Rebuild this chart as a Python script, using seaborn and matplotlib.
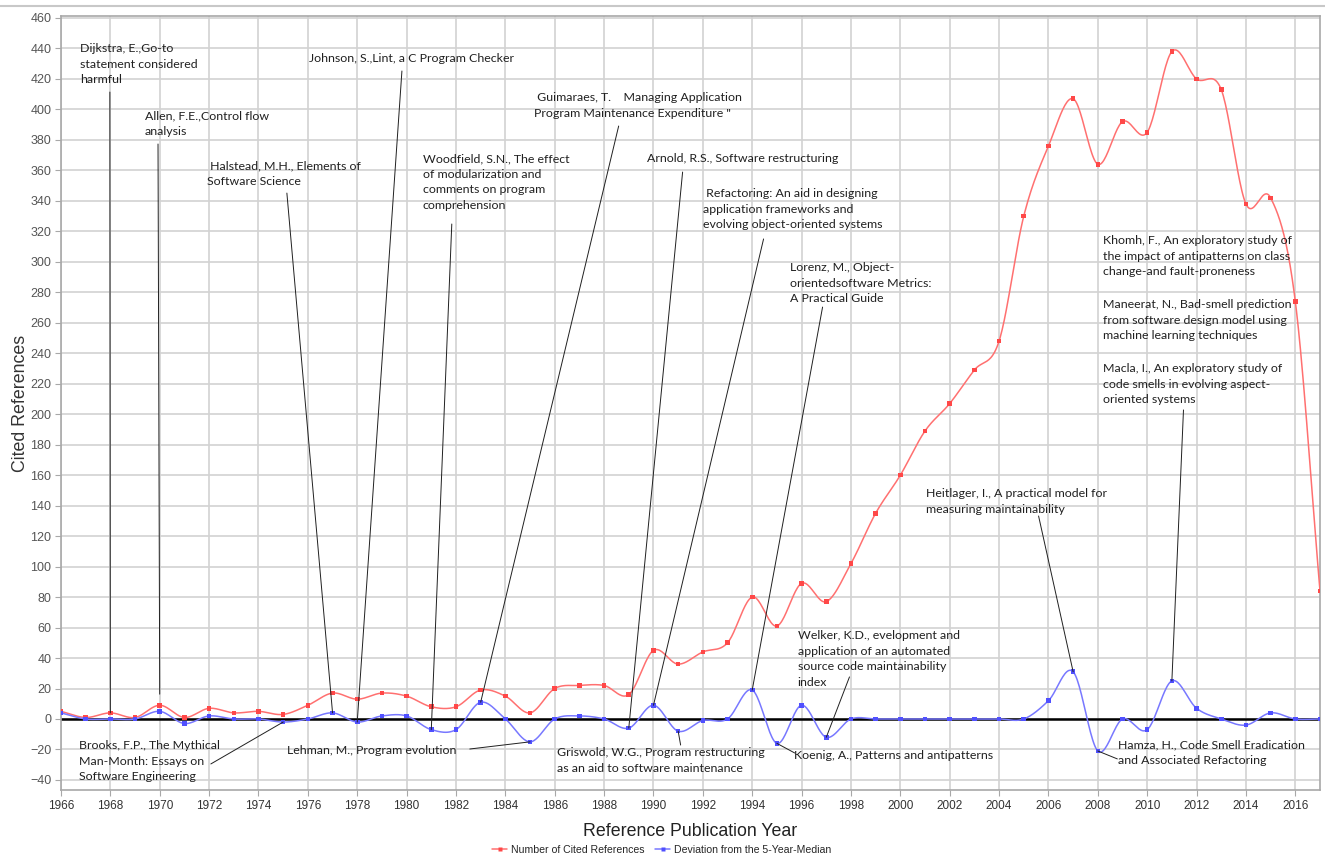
import numpy as np
import pandas as pd
import matplotlib
matplotlib.use("Agg")
import matplotlib.pyplot as plt
import seaborn as sns
from matplotlib.lines import Line2D

# data
years = list(range(1966, 2018))
cited = [5, 1, 4, 1, 9, 1, 7, 4, 5, 3,
         9, 17, 13, 17, 15, 8, 8, 19, 15, 4,
         20, 22, 22, 16, 45, 36, 44, 50, 80, 61,
         89, 77, 102, 135, 160, 189, 207, 229, 248, 330,
         376, 407, 364, 392, 385, 438, 420, 413, 338, 342,
         274, 84]
deviation = [4, 0, 0, 0, 5, -3, 2, 0, 0, -2,
             0, 4, -2, 2, 2, -7, -7, 11, 0, -15,
             0, 2, 0, -6, 9, -8, -1, 0, 19, -16,
             9, -12, 0, 0, 0, 0, 0, 0, 0, 0,
             12, 31, -21, 0, -7, 25, 7, 0, -4, 4,
             0, 0]
year_ticks = list(range(1966, 2017, 2))
y_ticks = list(range(-40, 461, 20))

# (label, text x, text y, line start x, line start y, year, series)
notes = [
    ("Dijkstra, E.,Go-to\nstatement considered\nharmful", 1966.77, 443.6, 1967.98, 411.4, 1968, "cited"),
    ("Allen, F.E.,Control flow\nanalysis", 1969.40, 399.6, 1969.93, 377.3, 1970, "cited"),
    (" Halstead, M.H., Elements of\nSoftware Science", 1971.91, 366.8, 1975.15, 345.1, 1977, "dev"),
    ("Johnson, S.,Lint, a C Program Checker", 1976.04, 437.0, 1979.81, 425.2, 1978, "dev"),
    ("Woodfield, S.N., The effect\nof modularization and\ncomments on program\ncomprehension",
     1980.66, 371.4, 1981.83, 324.8, 1981, "dev"),
    (" Guimaraes, T.    Managing Application\nProgram Maintenance Expenditure \"",
     1985.15, 411.4, 1988.59, 389.1, 1983, "dev"),
    ("Arnold, R.S., Software restructuring", 1989.72, 371.4, 1991.18, 358.9, 1989, "dev"),
    (" Refactoring: An aid in designing\napplication frameworks and\nevolving object-oriented systems",
     1991.99, 348.4, 1994.46, 315.0, 1990, "dev"),
    ("Lorenz, M., Object-\norientedsoftware Metrics:\nA Practical Guide",
     1995.55, 299.9, 1996.85, 270.3, 1994, "dev"),
    ("Welker, K.D., evelopment and\napplication of an automated\nsource code maintainability\nindex",
     1995.84, 58.4, 1997.94, 27.6, 1997, "dev"),
    ("Heitlager, I., A practical model for\nmeasuring maintainability",
     2001.02, 151.6, 2005.60, 133.2, 2007, "dev"),
    ("Khomh, F., An exploratory study of\nthe impact of antipatterns on class\nchange-and fault-proneness",
     2008.19, 317.6, None, None, None, None),
    ("Maneerat, N., Bad-smell prediction\nfrom software design model using\nmachine learning techniques",
     2008.19, 275.6, None, None, None, None),
    ("Macla, I., An exploratory study of\ncode smells in evolving aspect-\noriented systems",
     2008.19, 233.6, 2011.47, 202.8, 2011, "dev"),
    ("Brooks, F.P., The Mythical\nMan-Month: Essays on\nSoftware Engineering",
     1966.73, -13.8, 1972.07, -29.5, 1975, "dev"),
    ("Lehman, M., Program evolution", 1975.15, -17.1, 1982.56, -19.7, 1985, "dev"),
    ("Griswold, W.G., Program restructuring\nas an aid to software maintenance",
     1986.08, -18.4, 1991.10, -17.1, 1991, "dev"),
    ("Koenig, A., Patterns and antipatterns", 1995.68, -20.3, 1995.72, -22.3, 1995, "dev"),
    ("Hamza, H., Code Smell Eradication\nand Associated Refactoring",
     2008.83, -13.1, 2008.79, -26.2, 2008, "dev"),
]


def smooth(x, y, n=24):
    # cardinal (catmull-rom) spline through the points, like the original chart
    x = np.asarray(x, float)
    y = np.asarray(y, float)
    m = np.gradient(y, x)
    t = np.linspace(0, 1, n, endpoint=False)
    h00 = 2 * t**3 - 3 * t**2 + 1
    h10 = t**3 - 2 * t**2 + t
    h01 = -2 * t**3 + 3 * t**2
    h11 = t**3 - t**2
    xs, ys = [], []
    for i in range(len(x) - 1):
        h = x[i + 1] - x[i]
        xs.append(x[i] + t * h)
        ys.append(h00 * y[i] + h10 * h * m[i] + h01 * y[i + 1] + h11 * h * m[i + 1])
    xs.append([x[-1]])
    ys.append([y[-1]])
    return pd.DataFrame({"year": np.concatenate(xs), "value": np.concatenate(ys)})


sns.set_style("whitegrid", {"grid.color": "#d2d2d2", "axes.edgecolor": "#a8a8a8",
                            "xtick.bottom": True, "ytick.left": True})
plt.rcParams["font.family"] = ["Liberation Sans", "DejaVu Sans"]

red_line, red_mark = "#ff7070", "#ff4848"
blue_line, blue_mark = "#7878ff", "#5050ff"

fig = plt.figure(figsize=(13.25, 8.57), dpi=100)
ax = fig.add_axes([61 / 1325, 1 - 790 / 857, 1259 / 1325, 774 / 857])

ax.axhline(0, color="black", lw=1.8, zorder=2)

sns.lineplot(data=smooth(years, cited), x="year", y="value", sort=False, color=red_line,
             lw=1.1, ax=ax, zorder=3)
sns.lineplot(data=smooth(years, deviation), x="year", y="value", sort=False, color=blue_line,
             lw=1.1, ax=ax, zorder=3)
sns.scatterplot(x=years, y=cited, marker="s", s=11, color=red_mark, edgecolor="none",
                ax=ax, zorder=4)
sns.scatterplot(x=years, y=deviation, marker="s", s=11, color=blue_mark, edgecolor="none",
                ax=ax, zorder=4)

series = {"cited": cited, "dev": deviation}
for label, tx, ty, sx, sy, yr, key in notes:
    ax.text(tx, ty, label, ha="left", va="top", fontsize=8.9, color="#202020",
            family=["Lato", "DejaVu Sans"], linespacing=1.52, zorder=5)
    if yr is not None:
        vy = series[key][years.index(yr)]
        gap = 8 if yr == 1970 else 0
        ax.annotate("", xy=(yr, vy), xytext=(sx, sy),
                    arrowprops=dict(arrowstyle="-", color="#202020", lw=0.7,
                                    shrinkA=0, shrinkB=gap), zorder=5)

ax.set_xlim(1966, 2017)
ax.set_ylim(-46.6, 461.3)
ax.set_xticks(year_ticks)
ax.set_yticks(y_ticks)
ax.tick_params(axis="both", length=4, width=0.8, color="#a8a8a8", pad=3)
ax.tick_params(axis="x", labelsize=8.5, labelcolor="#333333")
ax.tick_params(axis="y", labelsize=9, labelcolor="#555555")
for lab in ax.get_xticklabels():
    lab.set_family(["Liberation Sans Narrow", "Liberation Sans"])
ax.grid(True, color="#d2d2d2", lw=1.2)
for sp in ax.spines.values():
    sp.set_color("#a8a8a8")
    sp.set_linewidth(1.2)

ax.set_xlabel("Reference Publication Year", fontsize=12.8, color="#222222", labelpad=8)
ax.set_ylabel("Cited References", fontsize=12.8, color="#333333", labelpad=1)

handles = [
    Line2D([], [], color=red_line, lw=1.1, marker="s", markersize=3,
           markerfacecolor=red_mark, markeredgecolor="none"),
    Line2D([], [], color=blue_line, lw=1.1, marker="s", markersize=3,
           markerfacecolor=blue_mark, markeredgecolor="none"),
]
fig.legend(handles, ["Number of Cited References", "Deviation from the 5-Year-Median"],
           loc="center", bbox_to_anchor=(662 / 1325, 1 - 850 / 857), ncol=2, frameon=False,
           handlelength=1.4, columnspacing=1.0, handletextpad=0.4,
           prop={"family": ["Liberation Sans Narrow", "Liberation Sans"], "size": 7.6})

fig.add_artist(Line2D([0, 1], [1 - 6 / 857, 1 - 6 / 857], transform=fig.transFigure,
                      color="#c8c8c8", lw=1.5))

fig.savefig("out.png", dpi=100)
